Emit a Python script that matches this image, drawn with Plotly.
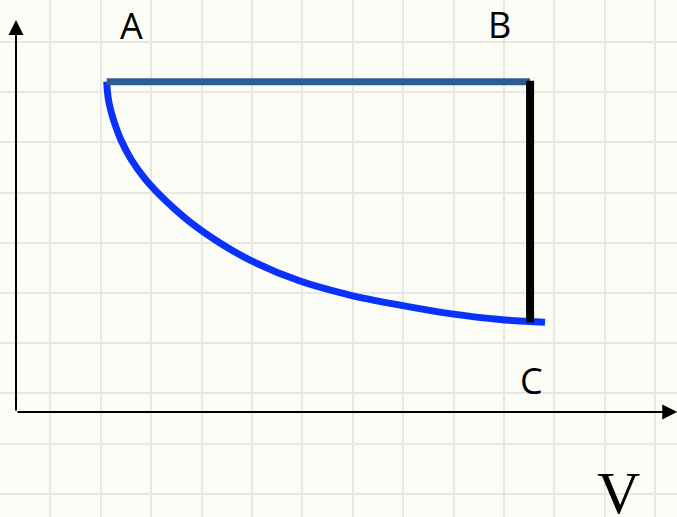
import plotly.graph_objects as go

# Data (V, P units; 1 unit = one grid square)
curve_V = [1.800, 1.811, 1.835, 1.879, 1.935, 2.083, 2.292, 2.579, 2.956, 3.452,
           4.048, 4.643, 5.635, 6.627, 7.619, 8.611, 9.603, 10.496]
curve_P = [6.580, 6.414, 6.215, 6.016, 5.817, 5.418, 5.020, 4.622, 4.223, 3.785,
           3.367, 3.026, 2.608, 2.329, 2.129, 1.960, 1.841, 1.787]
AB_V = [1.80, 10.20]
AB_P = [6.58, 6.58]
BC_V = [10.20, 10.20]
BC_P = [6.60, 1.79]
labels = ["A", "B", "C"]
label_V = [2.30, 9.60, 10.22]
label_P = [7.70, 7.72, 0.62]
axis_V_max = 13.12
axis_P_max = 7.81

fig = go.Figure()
fig.add_trace(go.Scatter(x=curve_V, y=curve_P, mode="lines",
                         line=dict(color="#0A32FF", width=7, shape="spline", smoothing=1.0),
                         hoverinfo="skip"))
fig.add_trace(go.Scatter(x=AB_V, y=AB_P, mode="lines",
                         line=dict(color="#2A5E91", width=7), hoverinfo="skip"))
fig.add_trace(go.Scatter(x=BC_V, y=BC_P, mode="lines",
                         line=dict(color="#000000", width=8), hoverinfo="skip"))

annotations = []
for t, vx, py in zip(labels, label_V, label_P):
    annotations.append(dict(x=vx, y=py, text=t, showarrow=False,
                            font=dict(family="Open Sans", size=36, color="#000000"),
                            xanchor="center", yanchor="middle"))
annotations.append(dict(x=11.95, y=-1.61, text="V", showarrow=False,
                        font=dict(family="Liberation Serif", size=60, color="#000000"),
                        xanchor="center", yanchor="middle"))
# axis arrows
annotations.append(dict(x=axis_V_max, y=0, ax=0, ay=0, axref="x", ayref="y",
                        xref="x", yref="y", text="", showarrow=True,
                        arrowhead=2, arrowsize=1.5, arrowwidth=2, arrowcolor="#000000"))
annotations.append(dict(x=0, y=axis_P_max, ax=0, ay=0, axref="x", ayref="y",
                        xref="x", yref="y", text="", showarrow=True,
                        arrowhead=2, arrowsize=1.5, arrowwidth=2, arrowcolor="#000000"))

fig.update_layout(
    width=677, height=517,
    margin=dict(l=0, r=0, t=0, b=0),
    paper_bgcolor="#FDFDF8", plot_bgcolor="#FDFDF8",
    showlegend=False,
    annotations=annotations,
    xaxis=dict(range=[-0.3175, 13.115], showgrid=True, gridcolor="#E8E8E2", gridwidth=2,
               tick0=0.6825, dtick=1, showticklabels=False, zeroline=False,
               showline=False, ticks="", fixedrange=True),
    yaxis=dict(range=[-2.092, 8.207], showgrid=True, gridcolor="#E8E8E2", gridwidth=2,
               tick0=0.37, dtick=1, showticklabels=False, zeroline=False,
               showline=False, ticks="", fixedrange=True),
)

fig.write_html("out.html", config={"displayModeBar": False},
               post_script="document.body.style.margin='0';")
